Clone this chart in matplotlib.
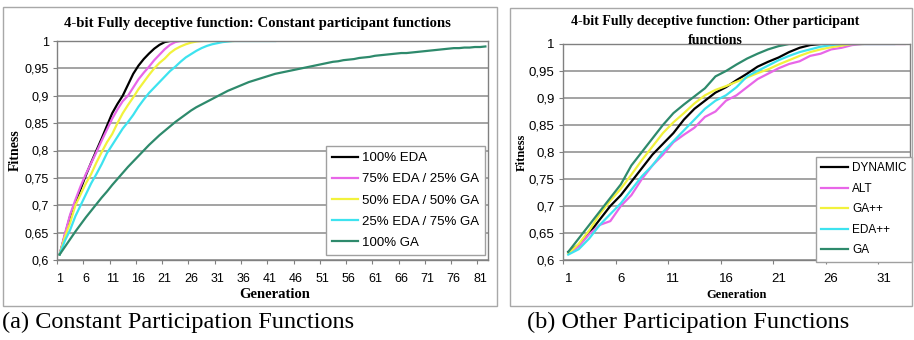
import numpy as np
import matplotlib.pyplot as plt
from matplotlib.patches import Rectangle

W, H = 914, 340

# ---- (a) constant participation functions ----
eda100 = [0.61, 0.645, 0.68, 0.705, 0.73, 0.755, 0.778, 0.80, 0.822, 0.845, 0.868, 0.885,
          0.90, 0.92, 0.94, 0.955, 0.967, 0.977, 0.986, 0.993, 0.998, 1.0, 1.0]
eda75 = [0.61, 0.648, 0.683, 0.71, 0.735, 0.757, 0.777, 0.797, 0.818, 0.838, 0.858, 0.875,
         0.89, 0.90, 0.915, 0.93, 0.942, 0.953, 0.965, 0.975, 0.985, 0.993, 0.998, 1.0,
         1.0, 1.0, 1.0, 1.0]
eda50 = [0.61, 0.642, 0.668, 0.70, 0.72, 0.74, 0.757, 0.778, 0.797, 0.815, 0.83, 0.85,
         0.868, 0.883, 0.897, 0.912, 0.925, 0.938, 0.95, 0.96, 0.968, 0.978, 0.985, 0.99,
         0.994, 0.997, 0.999, 1.0, 1.0, 1.0, 1.0, 1.0, 1.0, 1.0]
eda25 = [0.61, 0.635, 0.655, 0.68, 0.70, 0.72, 0.74, 0.757, 0.775, 0.795, 0.81, 0.825,
         0.84, 0.852, 0.865, 0.88, 0.893, 0.905, 0.915, 0.925, 0.935, 0.945, 0.953, 0.962,
         0.97, 0.976, 0.982, 0.987, 0.991, 0.994, 0.996, 0.998, 0.999, 1.0, 1.0, 1.0,
         1.0, 1.0, 1.0, 1.0, 1.0, 1.0]
ga100 = [0.61, 0.624, 0.638, 0.652, 0.665, 0.678, 0.69, 0.702, 0.714, 0.725, 0.737, 0.748,
         0.759, 0.77, 0.78, 0.79, 0.80, 0.81, 0.819, 0.828, 0.836, 0.844, 0.852, 0.859,
         0.866, 0.873, 0.879, 0.884, 0.889, 0.894, 0.899, 0.904, 0.909, 0.913, 0.917, 0.921,
         0.925, 0.928, 0.931, 0.934, 0.937, 0.94, 0.942, 0.944, 0.946, 0.948, 0.95, 0.952,
         0.954, 0.956, 0.958, 0.96, 0.962, 0.963, 0.965, 0.966, 0.967, 0.969, 0.97, 0.971,
         0.973, 0.974, 0.975, 0.976, 0.977, 0.978, 0.978, 0.979, 0.98, 0.981, 0.982, 0.983,
         0.984, 0.985, 0.986, 0.987, 0.987, 0.988, 0.988, 0.989, 0.989, 0.99]
labels_a = ['100% EDA', '75% EDA / 25% GA', '50% EDA / 50% GA', '25% EDA / 75% GA', '100% GA']

# ---- (b) other participation functions ----
dynamic = [0.615, 0.628, 0.65, 0.675, 0.70, 0.72, 0.745, 0.77, 0.795, 0.815, 0.835, 0.86,
           0.88, 0.895, 0.91, 0.92, 0.933, 0.945, 0.958, 0.967, 0.975, 0.985, 0.993, 0.998, 1.0]
alt = [0.612, 0.625, 0.648, 0.665, 0.672, 0.70, 0.72, 0.75, 0.775, 0.795, 0.818, 0.832,
       0.845, 0.865, 0.875, 0.895, 0.905, 0.92, 0.935, 0.945, 0.955, 0.963, 0.968, 0.978,
       0.982, 0.99, 0.993, 0.998, 1.0, 1.0, 1.0, 1.0, 1.0]
gapp = [0.612, 0.63, 0.655, 0.685, 0.71, 0.732, 0.758, 0.785, 0.81, 0.835, 0.855, 0.872,
        0.89, 0.905, 0.915, 0.922, 0.93, 0.938, 0.946, 0.953, 0.962, 0.97, 0.978, 0.985,
        0.99, 0.994, 0.997, 1.0, 1.0]
edapp = [0.61, 0.62, 0.64, 0.665, 0.685, 0.705, 0.73, 0.755, 0.775, 0.80, 0.82, 0.84,
         0.86, 0.88, 0.895, 0.905, 0.92, 0.94, 0.95, 0.96, 0.97, 0.978, 0.985, 0.99,
         0.995, 0.998, 1.0, 1.0, 1.0, 1.0, 1.0, 1.0]
ga = [0.615, 0.64, 0.665, 0.69, 0.715, 0.74, 0.775, 0.80, 0.825, 0.85, 0.872, 0.888,
      0.903, 0.918, 0.94, 0.95, 0.962, 0.973, 0.982, 0.99, 0.996, 1.0, 1.0]
labels_b = ['DYNAMIC', 'ALT', 'GA++', 'EDA++', 'GA']

yticks = [0.6, 0.65, 0.7, 0.75, 0.8, 0.85, 0.9, 0.95, 1.0]
ytick_labels = ['0,6', '0,65', '0,7', '0,75', '0,8', '0,85', '0,9', '0,95', '1']

colors = ['#000000', '#e866e8', '#f2f23c', '#3de3ef', '#2e8a6c']

sans = 'Liberation Sans'
serif = 'Liberation Serif'


def rect(x0, y0, x1, y1):
    # pixel box -> figure fraction
    return [x0 / W, 1 - y1 / H, (x1 - x0) / W, (y1 - y0) / H]


fig = plt.figure(figsize=(W / 100, H / 100), dpi=100)

# panel frames
for x0, y0, x1, y1 in [(3, 7, 497, 306), (510, 8, 912, 306)]:
    fig.patches.append(Rectangle((x0 / W, 1 - y1 / H), (x1 - x0) / W, (y1 - y0) / H,
                                 transform=fig.transFigure, fill=False,
                                 edgecolor='#a8a8a8', lw=1.0))


def setup(ax, n, fs_tick):
    ax.set_xlim(0.5, n + 0.5)
    ax.set_ylim(0.6, 1.0)
    ax.set_yticks(yticks)
    ax.set_yticklabels(ytick_labels, fontfamily=sans, fontsize=fs_tick)
    ax.grid(axis='y', color='#8a8a8a', lw=1.1)
    ax.set_axisbelow(True)
    ax.set_xticks(np.arange(0.5, n + 1, 5))
    ax.set_xticklabels([])
    ax.set_xticks(np.arange(1, n + 1, 5), minor=True)
    ax.set_xticklabels([str(g) for g in range(1, n + 1, 5)], minor=True,
                       fontfamily=sans, fontsize=fs_tick)
    ax.tick_params(axis='x', which='major', length=3, color='#808080')
    ax.tick_params(axis='x', which='minor', length=0, pad=9)
    ax.tick_params(axis='y', length=3, color='#808080', pad=3)
    for s in ax.spines.values():
        s.set_color('#808080')
        s.set_linewidth(1.0)


# ---- left chart ----
ax1 = fig.add_axes(rect(57, 41, 488, 260))
setup(ax1, 82, 9)
for ys, c, lab in zip([eda100, eda75, eda50, eda25, ga100], colors, labels_a):
    ax1.plot(np.arange(1, len(ys) + 1), ys, color=c, lw=1.6, label=lab)
leg1 = ax1.legend(loc='upper left', bbox_to_anchor=(326 / W, 1 - 146 / H),
                  bbox_transform=fig.transFigure, borderaxespad=0, fancybox=False,
                  edgecolor='#a0a0a0', prop={'family': sans, 'size': 9.5},
                  handlelength=2.0, handletextpad=0.3, labelspacing=0.68,
                  borderpad=0.45, framealpha=1)
leg1.get_frame().set_linewidth(1.0)
fig.text(257 / W, 1 - 23 / H, '4-bit Fully deceptive function: Constant participant functions',
         ha='center', va='center', fontfamily=serif, fontweight='bold', fontsize=10.6)
fig.text(15 / W, 1 - 150 / H, 'Fitness', rotation=90, ha='center', va='center',
         fontfamily=serif, fontweight='bold', fontsize=10)
fig.text(275 / W, 1 - 294 / H, 'Generation', ha='center', va='center',
         fontfamily=serif, fontweight='bold', fontsize=10.5)

# ---- right chart ----
ax2 = fig.add_axes(rect(563, 44, 910, 260))
setup(ax2, 33, 9.5)
for ys, c, lab in zip([dynamic, alt, gapp, edapp, ga], colors, labels_b):
    ax2.plot(np.arange(1, len(ys) + 1), ys, color=c, lw=1.6, label=lab)
leg2 = ax2.legend(loc='upper left', bbox_to_anchor=(816 / W, 1 - 157 / H),
                  bbox_transform=fig.transFigure, borderaxespad=0, fancybox=False,
                  edgecolor='#a0a0a0', prop={'family': sans, 'size': 8.5},
                  handlelength=2.3, handletextpad=0.3, labelspacing=0.72,
                  borderpad=0.45, framealpha=1)
leg2.get_frame().set_linewidth(1.0)
fig.text(715 / W, 1 - 22 / H, '4-bit Fully deceptive function: Other participant',
         ha='center', va='center', fontfamily=serif, fontweight='bold', fontsize=10)
fig.text(715 / W, 1 - 40 / H, 'functions', ha='center', va='center',
         fontfamily=serif, fontweight='bold', fontsize=10)
fig.text(522 / W, 1 - 152 / H, 'Fitness', rotation=90, ha='center', va='center',
         fontfamily=serif, fontweight='bold', fontsize=9)
fig.text(737 / W, 1 - 295 / H, 'Generation', ha='center', va='center',
         fontfamily=serif, fontweight='bold', fontsize=9)

# captions
fig.text(2 / W, 1 - 322 / H, '(a) Constant Participation Functions', ha='left', va='center',
         fontfamily=serif, fontsize=17.5)
fig.text(527 / W, 1 - 322 / H, '(b) Other Participation Functions', ha='left', va='center',
         fontfamily=serif, fontsize=17.5)

fig.savefig('out.png', dpi=100)
